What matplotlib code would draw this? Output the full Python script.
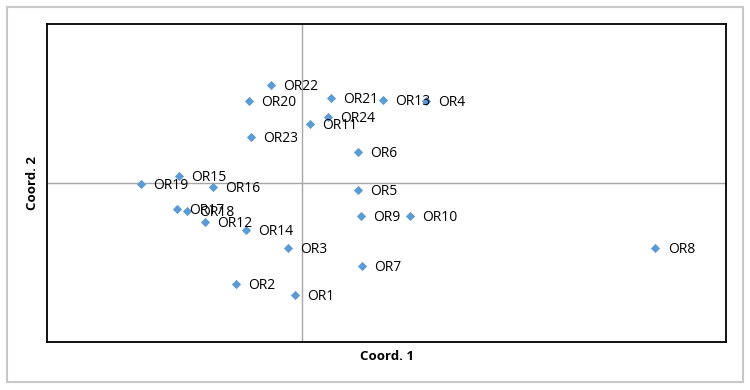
import matplotlib.pyplot as plt
from matplotlib.patches import Rectangle

# Point labels and coordinates
names = ["OR1", "OR2", "OR3", "OR4", "OR5", "OR6", "OR7", "OR8", "OR9", "OR10",
         "OR11", "OR12", "OR13", "OR14", "OR15", "OR16", "OR17", "OR18", "OR19",
         "OR20", "OR21", "OR22", "OR23", "OR24"]
coord1 = [-0.039, -0.386, -0.080, 0.733, 0.332, 0.332, 0.356, 2.083, 0.350, 0.639,
          0.049, -0.569, 0.480, -0.328, -0.723, -0.522, -0.734, -0.675, -0.946,
          -0.310, 0.173, -0.180, -0.298, 0.156]
coord2 = [-0.704, -0.635, -0.409, 0.516, -0.044, 0.195, -0.522, -0.409, -0.208, -0.208,
          0.371, -0.245, 0.522, -0.296, 0.044, -0.025, -0.164, -0.176, -0.006,
          0.516, 0.535, 0.616, 0.289, 0.415]

plt.rcParams['font.family'] = ['Open Sans', 'DejaVu Sans']

fig = plt.figure(figsize=(7.5, 3.9), dpi=100)

# Outer chart border
fig.patches.append(Rectangle((0.009, 0.02), 0.982, 0.962, transform=fig.transFigure,
                             fill=False, edgecolor='#c8c8c8', linewidth=1.5))

ax = fig.add_axes([0.0627, 0.123, 0.9053, 0.815])
ax.set_xlim(-1.5, 2.5)
ax.set_ylim(-1.0, 1.0)

ax.axhline(0, color='#a6a6a6', linewidth=1, zorder=1)
ax.axvline(0, color='#a6a6a6', linewidth=1, zorder=1)

ax.scatter(coord1, coord2, marker='D', s=22, color='#5b9bd5', zorder=3, linewidths=0)
for n, x, y in zip(names, coord1, coord2):
    ax.annotate(n, (x, y), xytext=(9, -1), textcoords='offset points',
                va='center', ha='left', fontsize=10, color='black', zorder=4)

ax.set_xticks([])
ax.set_yticks([])
for s in ax.spines.values():
    s.set_linewidth(1.3)
    s.set_color('black')

ax.set_xlabel('Coord. 1', fontsize=9.5, fontweight='bold', labelpad=6)
ax.set_ylabel('Coord. 2', fontsize=9.5, fontweight='bold', labelpad=6)

fig.savefig('out.png', dpi=100)
